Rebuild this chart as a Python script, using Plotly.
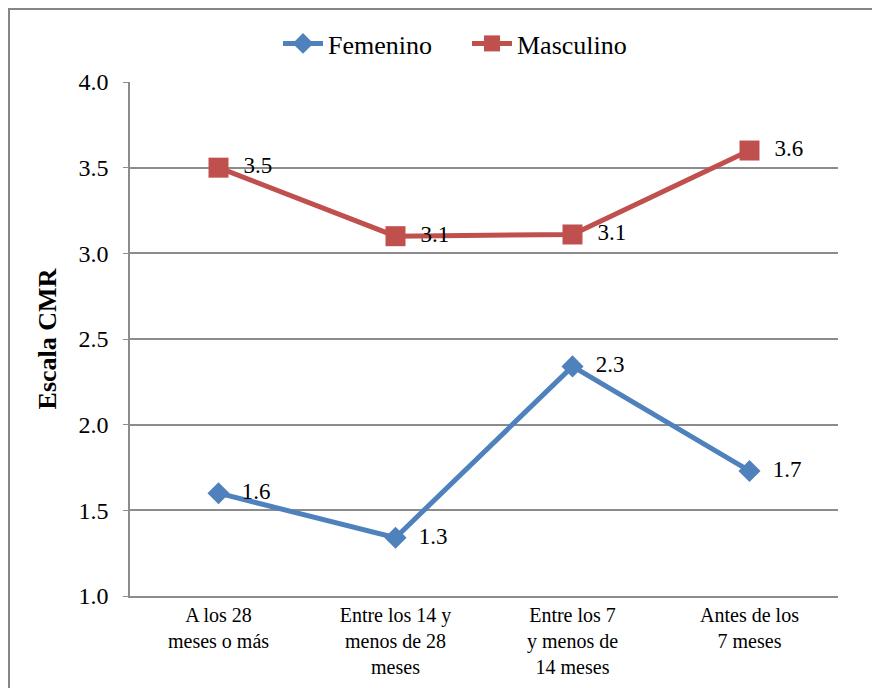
import plotly.graph_objects as go

categories = ["A los 28<br>meses o más", "Entre los 14 y<br>menos de 28<br>meses",
              "Entre los 7<br>y menos de<br>14 meses", "Antes de los<br>7 meses"]
femenino = [1.60, 1.34, 2.34, 1.73]
masculino = [3.50, 3.10, 3.11, 3.60]
y_ticks = [1.0, 1.5, 2.0, 2.5, 3.0, 3.5, 4.0]

FONT = "Liberation Serif"
BLUE = "#4F81BD"
RED = "#C0504D"
GRID = "#8C8C8C"

# page has an 8px body margin, so the figure is 8px smaller than the window
W, H = 872, 680
L, R, T, B = 122, 42, 74, 92
pw, ph = W - L - R, H - T - B

LABEL = "\u00a0\u00a0%{y:.1f}"

fig = go.Figure()
fig.add_trace(go.Scatter(
    x=categories, y=femenino, name="Femenino", mode="lines+markers+text",
    line=dict(color=BLUE, width=5),
    marker=dict(symbol="diamond", size=17, color=BLUE),
    texttemplate=LABEL, textposition="middle right",
    textfont=dict(family=FONT, size=23, color="black"),
))
fig.add_trace(go.Scatter(
    x=categories, y=masculino, name="Masculino", mode="lines+markers+text",
    line=dict(color=RED, width=5),
    marker=dict(symbol="square", size=20, color=RED),
    texttemplate=LABEL, textposition="middle right",
    textfont=dict(family=FONT, size=23, color="black"),
))

# outer chart border (left and top edges visible)
fig.add_shape(type="rect", xref="paper", yref="paper",
              x0=(1 - L) / pw, x1=(W + 20 - L) / pw,
              y0=-(B + 20) / ph, y1=1 + (T - 1) / ph,
              line=dict(color="#868686", width=2), layer="below")

fig.update_layout(
    width=W, height=H,
    margin=dict(l=L, r=R, t=T, b=B, autoexpand=False),
    paper_bgcolor="white", plot_bgcolor="white",
    font=dict(family=FONT, size=20, color="black"),
    showlegend=True,
    legend=dict(orientation="h", x=(270 - L) / pw, xanchor="left", y=1 + (T - 12) / ph,
                yanchor="top", font=dict(family=FONT, size=26),
                itemwidth=40, entrywidth=134, tracegroupgap=0),
    xaxis=dict(range=[-0.5, 3.5], showgrid=False, showline=True, linecolor=GRID,
               linewidth=2, ticks="", tickfont=dict(family=FONT, size=20),
               zeroline=False, fixedrange=True, automargin=False),
    yaxis=dict(range=[1.0, 4.0], tickvals=y_ticks, tickformat=".1f",
               showgrid=True, gridcolor=GRID, gridwidth=1.5,
               showline=True, linecolor=GRID, linewidth=1.5,
               ticks="outside", ticklen=5, tickcolor=GRID, ticklabelstandoff=10,
               tickfont=dict(family=FONT, size=24), zeroline=False, automargin=False,
               title=dict(text="<b>Escala CMR</b>", font=dict(family=FONT, size=26),
                          standoff=14)),
)

fig.write_html("out.html")
